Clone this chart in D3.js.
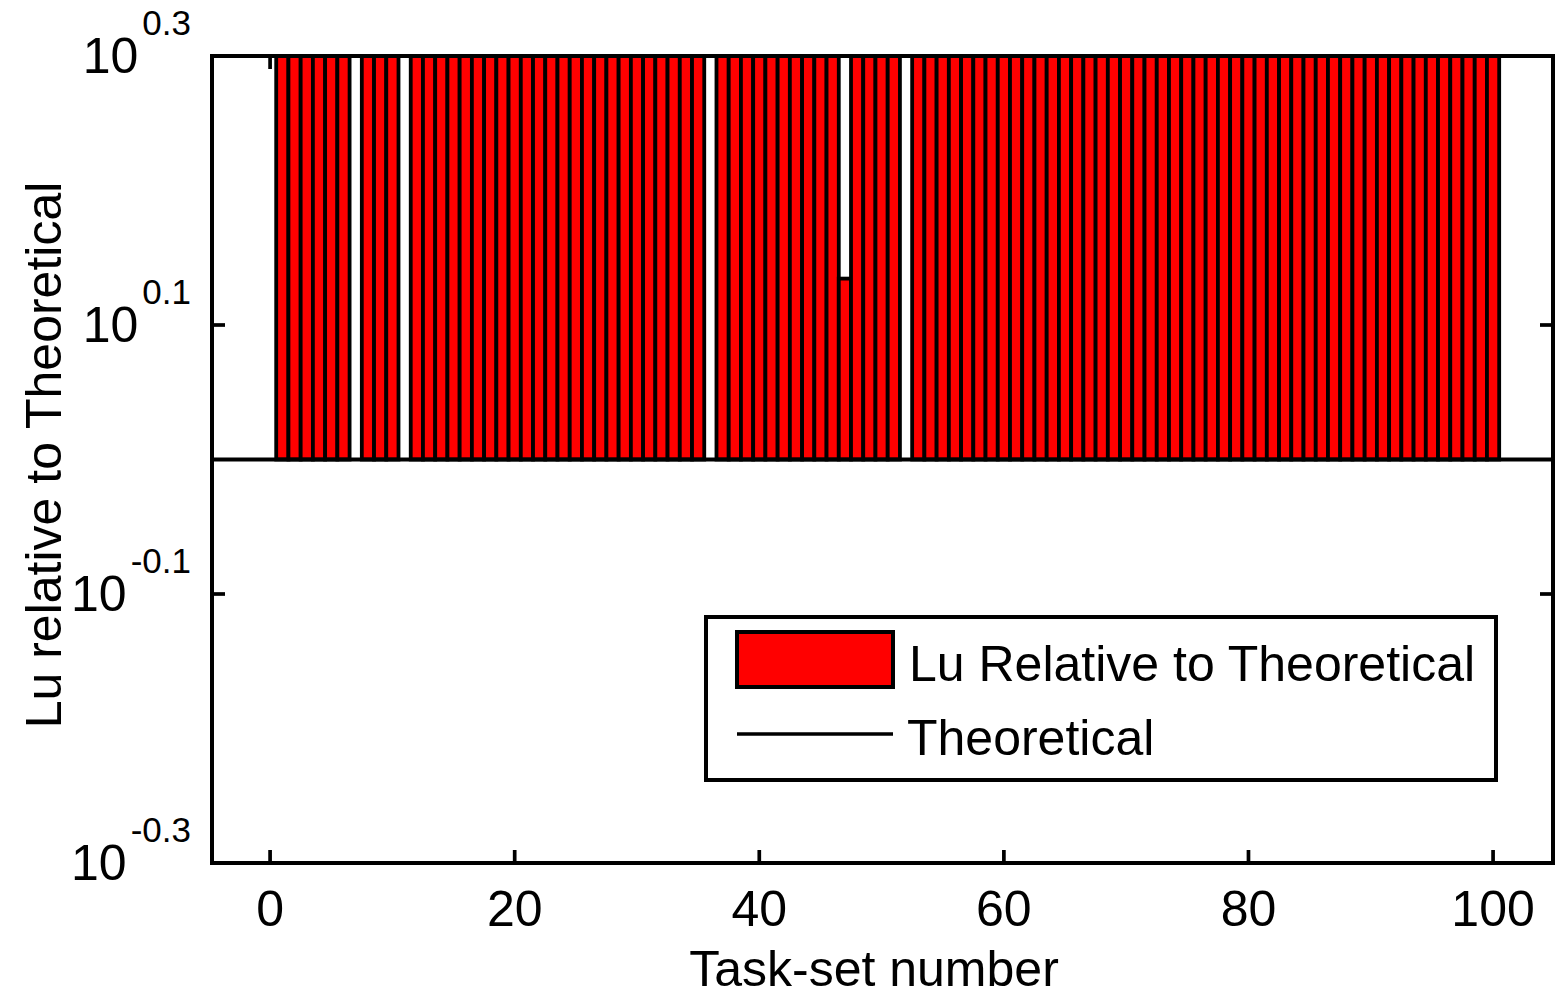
<!DOCTYPE html>
<html>
<head>
<meta charset="utf-8">
<script src="https://cdn.jsdelivr.net/npm/d3@7"></script>
<style>
  html, body { margin: 0; padding: 0; background: #fff; }
  svg { display: block; }
  text { font-family: "Liberation Sans", Arial, sans-serif; fill: #000; }
</style>
</head>
<body>
<svg id="chart" width="1555" height="998"></svg>
<script>
// Task-set numbers 1..100
const taskSets = d3.range(1, 101);

// Lu bound relative to theoretical, per task set (values above 10^0.3 run off the top)
const luRelative = [
  2.0, 2.0, 2.0, 2.0, 2.0, 2.0, 1.0, 2.0, 2.0, 2.0,
  1.0, 2.0, 2.0, 2.0, 2.0, 2.0, 2.0, 2.0, 2.0, 2.0,
  2.0, 2.0, 2.0, 2.0, 2.0, 2.0, 2.0, 2.0, 2.0, 2.0,
  2.0, 2.0, 2.0, 2.0, 2.0, 1.0, 2.0, 2.0, 2.0, 2.0,
  2.0, 2.0, 2.0, 2.0, 2.0, 2.0, 1.363, 2.0, 2.0, 2.0,
  2.0, 1.0, 2.0, 2.0, 2.0, 2.0, 2.0, 2.0, 2.0, 2.0,
  2.0, 2.0, 2.0, 2.0, 2.0, 2.0, 2.0, 2.0, 2.0, 2.0,
  2.0, 2.0, 2.0, 2.0, 2.0, 2.0, 2.0, 2.0, 2.0, 2.0,
  2.0, 2.0, 2.0, 2.0, 2.0, 2.0, 2.0, 2.0, 2.0, 2.0,
  2.0, 2.0, 2.0, 2.0, 2.0, 2.0, 2.0, 2.0, 2.0, 2.0
];

// Theoretical reference level
const theoretical = 1;

// Axis ticks
const xTicks = [0, 20, 40, 60, 80, 100];
const yTickExponents = ["-0.3", "-0.1", "0.1", "0.3"];

const svg = d3.select("#chart");
const L = 212, R = 1553, T = 56, B = 863;

const x = d3.scaleLinear().domain([-4.75, 104.9]).range([L, R]);
const y = d3.scaleLog().domain([Math.pow(10, -0.3), Math.pow(10, 0.3)]).range([B, T]);

svg.append("defs").append("clipPath").attr("id", "plotClip")
  .append("rect").attr("x", L).attr("y", T).attr("width", R - L).attr("height", B - T);

// Inward ticks (drawn beneath the data)
const ticks = svg.append("g").attr("stroke", "#000").attr("stroke-width", 3.7);
const tickLen = 13;
xTicks.forEach(v => {
  ticks.append("line").attr("x1", x(v)).attr("x2", x(v)).attr("y1", B).attr("y2", B - tickLen);
  ticks.append("line").attr("x1", x(v)).attr("x2", x(v)).attr("y1", T).attr("y2", T + tickLen);
});
yTickExponents.forEach(e => {
  const yy = y(Math.pow(10, +e));
  ticks.append("line").attr("x1", L).attr("x2", L + tickLen).attr("y1", yy).attr("y2", yy);
  ticks.append("line").attr("x1", R).attr("x2", R - tickLen).attr("y1", yy).attr("y2", yy);
});

// Bars rising from the theoretical level
const bw = x(1) - x(0);
svg.append("g").attr("clip-path", "url(#plotClip)")
  .selectAll("rect").data(taskSets).join("rect")
  .attr("x", d => x(d) - bw / 2)
  .attr("width", bw)
  .attr("y", (d, i) => Math.min(y(luRelative[i]), y(theoretical)))
  .attr("height", (d, i) => Math.abs(y(theoretical) - y(luRelative[i])))
  .attr("fill", "#ff0000")
  .attr("stroke", "#000")
  .attr("stroke-width", 3.8);

// Theoretical line
svg.append("line")
  .attr("x1", L).attr("x2", R)
  .attr("y1", y(theoretical)).attr("y2", y(theoretical))
  .attr("stroke", "#000").attr("stroke-width", 4);

// Axes box
svg.append("rect")
  .attr("x", L).attr("y", T).attr("width", R - L).attr("height", B - T)
  .attr("fill", "none").attr("stroke", "#000").attr("stroke-width", 4);

// X tick labels
svg.append("g").selectAll("text").data(xTicks).join("text")
  .attr("x", d => x(d)).attr("y", 926)
  .attr("text-anchor", "middle")
  .style("font-size", "50px")
  .text(d => d);

// Y tick labels 10^e
yTickExponents.forEach(e => {
  const yy = y(Math.pow(10, +e));
  const t = svg.append("text")
    .attr("x", 191).attr("y", yy + 17)
    .attr("text-anchor", "end")
    .style("font-size", "50px");
  t.append("tspan").text("10");
  t.append("tspan").attr("dy", -38).attr("dx", 4).style("font-size", "35px").text(e);
});

// Axis titles
svg.append("text")
  .attr("x", 874).attr("y", 986)
  .attr("text-anchor", "middle")
  .style("font-size", "50px")
  .text("Task-set number");

svg.append("text")
  .attr("transform", "translate(61,455) rotate(-90)")
  .attr("text-anchor", "middle")
  .style("font-size", "50px")
  .text("Lu relative to Theoretical");

// Legend
const lg = svg.append("g");
lg.append("rect")
  .attr("x", 706).attr("y", 617).attr("width", 790).attr("height", 163)
  .attr("fill", "#fff").attr("stroke", "#000").attr("stroke-width", 4);
lg.append("rect")
  .attr("x", 737).attr("y", 632).attr("width", 156).attr("height", 55)
  .attr("fill", "#ff0000").attr("stroke", "#000").attr("stroke-width", 4);
lg.append("text").attr("x", 909).attr("y", 681)
  .style("font-size", "50px").text("Lu Relative to Theoretical");
lg.append("line")
  .attr("x1", 737).attr("x2", 893).attr("y1", 734).attr("y2", 734)
  .attr("stroke", "#000").attr("stroke-width", 3.7);
lg.append("text").attr("x", 907).attr("y", 755)
  .style("font-size", "50px").text("Theoretical");
</script>
</body>
</html>
